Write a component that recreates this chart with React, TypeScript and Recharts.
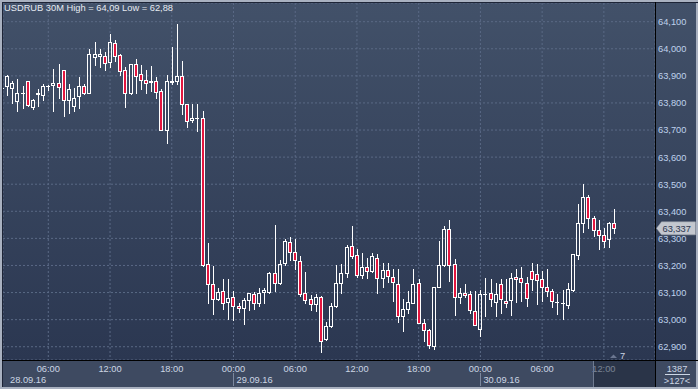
import React from 'react';
import { ComposedChart, Bar, XAxis, YAxis, CartesianGrid, ReferenceLine } from 'recharts';

// ---- data (30-minute candles, first index = -1 which sits on the left edge) ----
const firstIndex = -1;
const opens = [
  63.856, 63.862, 63.856, 63.806, 63.837, 63.880, 63.784, 63.835, 63.830, 63.862,
  63.865, 63.874, 63.921, 63.812, 63.787, 63.825, 63.862, 63.837, 63.971, 63.975,
  63.975, 63.952, 64.023, 63.976, 63.921, 63.838, 63.943, 63.906, 63.886, 63.880,
  63.880, 63.843, 63.700, 63.879, 63.880, 63.898, 63.797, 63.738, 63.744, 63.745,
  63.207, 63.133, 63.077, 63.106, 63.065, 63.085, 63.050, 63.043, 63.072, 63.096,
  63.060, 63.102, 63.102, 63.171, 63.137, 63.210, 63.286, 63.250, 63.217, 63.098,
  63.075, 63.057, 63.084, 62.928, 62.975, 63.051, 63.137, 63.171, 63.272, 63.237,
  63.164, 63.194, 63.180, 63.229, 63.153, 63.183, 63.159, 63.131, 63.014, 63.039,
  63.063, 63.137, 62.987, 62.961, 62.904, 63.122, 63.200, 63.333, 63.204, 63.082,
  63.098, 63.094, 63.033, 62.967, 63.094, 63.098, 63.066, 63.133, 63.069, 63.072,
  63.158, 63.155, 63.137, 63.178, 63.168, 63.150, 63.120, 63.105, 63.065, 63.062,
  63.055, 63.111, 63.237, 63.356, 63.454, 63.375, 63.332, 63.314, 63.296, 63.356,
];
const highs = [
  63.857, 63.902, 63.881, 63.887, 63.862, 63.882, 63.816, 63.850, 63.869, 63.866,
  63.925, 63.944, 63.921, 63.869, 63.856, 63.896, 63.869, 64.000, 64.025, 64.000,
  63.987, 64.054, 64.032, 63.982, 63.933, 63.942, 63.964, 63.939, 63.923, 63.936,
  63.896, 63.853, 63.902, 64.007, 64.091, 63.955, 63.797, 63.797, 63.797, 63.772,
  63.284, 63.198, 63.118, 63.149, 63.149, 63.106, 63.060, 63.081, 63.100, 63.102,
  63.118, 63.118, 63.176, 63.348, 63.220, 63.299, 63.306, 63.299, 63.235, 63.176,
  63.090, 63.094, 63.088, 62.992, 63.061, 63.200, 63.204, 63.274, 63.345, 63.262,
  63.247, 63.229, 63.245, 63.241, 63.210, 63.210, 63.186, 63.186, 63.078, 63.106,
  63.186, 63.149, 63.004, 62.967, 63.121, 63.290, 63.345, 63.367, 63.223, 63.115,
  63.131, 63.106, 63.106, 63.110, 63.152, 63.149, 63.137, 63.149, 63.149, 63.174,
  63.188, 63.196, 63.159, 63.208, 63.204, 63.180, 63.186, 63.113, 63.095, 63.111,
  63.135, 63.241, 63.427, 63.502, 63.460, 63.383, 63.369, 63.338, 63.362, 63.409,
];
const lows = [
  63.855, 63.829, 63.800, 63.771, 63.780, 63.787, 63.779, 63.787, 63.811, 63.846,
  63.771, 63.819, 63.750, 63.762, 63.769, 63.781, 63.834, 63.837, 63.940, 63.931,
  63.921, 63.933, 63.955, 63.902, 63.785, 63.834, 63.837, 63.853, 63.837, 63.844,
  63.819, 63.699, 63.651, 63.869, 63.871, 63.758, 63.711, 63.728, 63.696, 63.198,
  63.062, 63.022, 63.072, 63.040, 63.004, 62.997, 63.028, 62.985, 63.036, 63.040,
  63.050, 63.063, 63.100, 63.105, 63.131, 63.200, 63.220, 63.186, 63.088, 63.061,
  63.036, 63.033, 62.882, 62.926, 62.971, 63.048, 63.100, 63.158, 63.229, 63.159,
  63.152, 63.152, 63.176, 63.100, 63.122, 63.139, 63.069, 62.990, 62.959, 63.026,
  63.061, 62.987, 62.922, 62.894, 62.891, 63.122, 63.198, 63.143, 63.017, 63.061,
  63.085, 63.023, 62.980, 62.938, 63.014, 63.051, 63.014, 63.024, 63.045, 63.018,
  63.066, 63.069, 63.051, 63.111, 63.058, 63.067, 63.089, 63.046, 63.022, 63.001,
  63.043, 63.107, 63.223, 63.322, 63.338, 63.308, 63.259, 63.269, 63.269, 63.320,
];
const closes = [
  63.856, 63.900, 63.874, 63.836, 63.835, 63.794, 63.811, 63.834, 63.861, 63.863,
  63.874, 63.859, 63.812, 63.850, 63.819, 63.861, 63.837, 63.979, 63.979, 63.979,
  63.947, 64.026, 63.974, 63.918, 63.838, 63.942, 63.900, 63.884, 63.874, 63.879,
  63.840, 63.700, 63.880, 63.880, 63.898, 63.797, 63.733, 63.745, 63.744, 63.201,
  63.133, 63.078, 63.102, 63.060, 63.080, 63.049, 63.043, 63.072, 63.100, 63.063,
  63.097, 63.109, 63.171, 63.137, 63.204, 63.290, 63.250, 63.220, 63.094, 63.073,
  63.057, 63.082, 62.921, 62.977, 63.051, 63.134, 63.171, 63.268, 63.235, 63.164,
  63.194, 63.180, 63.235, 63.155, 63.183, 63.161, 63.139, 63.014, 63.041, 63.066,
  63.133, 62.987, 62.963, 62.906, 63.121, 63.201, 63.333, 63.200, 63.082, 63.098,
  63.090, 63.035, 62.980, 63.094, 63.094, 63.075, 63.094, 63.075, 63.061, 63.155,
  63.149, 63.139, 63.080, 63.150, 63.146, 63.120, 63.105, 63.067, 63.064, 63.061,
  63.113, 63.241, 63.356, 63.454, 63.375, 63.332, 63.314, 63.292, 63.356, 63.337,
];

const yTicks = [62.9, 63.0, 63.1, 63.2, 63.3, 63.4, 63.5, 63.6, 63.7, 63.8, 63.9, 64.0, 64.1];
const xTickIdx = [8, 20, 32, 44, 56, 68, 80, 92, 104, 116];
const xTickLabels = ['06:00', '12:00', '18:00', '00:00', '06:00', '12:00', '18:00', '00:00', '06:00', '12:00'];
const dateTickIdx = [44, 92];
const dateLabels = ['29.09.16', '30.09.16'];
const firstDateLabel = '28.09.16';
const lastPrice = 63.337;
const titleText = 'USDRUB 30M High = 64,09 Low = 62,88';
const barsLabel = '1387';
const shiftLabel = '>127<';
const shiftCount = '7';

const data = opens.map((o, n) => ({
  i: n + firstIndex,
  open: o,
  high: highs[n],
  low: lows[n],
  close: closes[n],
}));

const FONT = '"Liberation Sans", Arial, sans-serif';
const RED = '#e3163f';
const W = 698;
const H = 389;

const fmt = (v: number) => v.toFixed(3).replace('.', ',');

const Candle = (props: any) => {
  const { x, y, width, height, payload } = props;
  if (x == null || y == null || !payload) return null;
  const { open, close, high, low } = payload;
  const c = Math.round(x + width / 2);
  const range = high - low;
  const toY = (v: number) => (range > 0 ? y + ((high - v) / range) * height : y);
  const yH = Math.round(y);
  const yL = Math.round(y + height);
  const yO = Math.round(toY(open));
  const yC = Math.round(toY(close));
  const top = Math.min(yO, yC);
  const bot = Math.max(yO, yC);
  const bear = close < open;
  const wx = c + 0.5;
  return (
    <g>
      {top > yH && <line x1={wx} x2={wx} y1={yH} y2={top} stroke="#ffffff" strokeWidth={1} />}
      {yL > bot && <line x1={wx} x2={wx} y1={bot} y2={yL + 1} stroke="#ffffff" strokeWidth={1} />}
      {bot - top >= 1 ? (
        <rect x={c - 1.5} y={top + 0.5} width={3} height={bot - top} fill={bear ? RED : 'none'} stroke="#ffffff" strokeWidth={1} />
      ) : (
        <line x1={c - 2} x2={c + 2} y1={top + 0.5} y2={top + 0.5} stroke="#ffffff" strokeWidth={1} />
      )}
    </g>
  );
};

const YTick = (props: any) => {
  const { x, y, payload } = props;
  return (
    <text x={x} y={y + 3.4} fill="#bfd1ec" fontSize={9.3} fontFamily={FONT} textAnchor="start">
      {fmt(payload.value)}
    </text>
  );
};

const XTick = (props: any) => {
  const { x, y, payload } = props;
  const idx = xTickIdx.indexOf(payload.value);
  const dIdx = dateTickIdx.indexOf(payload.value);
  const lx = Math.round(x) + 0.5;
  return (
    <g>
      <text x={x} y={y + 11.7} fill="#ccd6e4" fontSize={9.3} fontFamily={FONT} textAnchor="middle">
        {idx >= 0 ? xTickLabels[idx] : ''}
      </text>
      {dIdx >= 0 && (
        <g>
          <line x1={lx} x2={lx} y1={y + 13} y2={y + 26} stroke="#7c889f" strokeWidth={1} />
          <text x={x + 3} y={y + 22.7} fill="#ccd6e4" fontSize={9.3} fontFamily={FONT} textAnchor="start">
            {dateLabels[dIdx]}
          </text>
        </g>
      )}
    </g>
  );
};

const PriceTag = (props: any) => {
  const vb = props.viewBox || {};
  const x0 = (vb.x || 0) + (vb.width || 0) + 1.5;
  const yc = vb.y || 0;
  return (
    <g>
      <path
        d={`M${x0} ${yc} L${x0 + 5} ${yc - 6.5} L${x0 + 39} ${yc - 6.5} L${x0 + 39} ${yc + 6.5} L${x0 + 5} ${yc + 6.5} Z`}
        fill="#c3c7cf"
        stroke="#9aa0ab"
        strokeWidth={0.5}
      />
      <text x={x0 + 6} y={yc + 3.4} fill="#2b3650" fontSize={9.3} fontFamily={FONT}>
        {fmt(lastPrice)}
      </text>
    </g>
  );
};

export default function App() {
  return (
    <div style={{ position: 'absolute', left: 0, top: 0, width: W, height: H, overflow: 'hidden', background: '#a9b1c0' }}>
      {/* plot + right axis background */}
      <div style={{ position: 'absolute', left: 2, top: 2, width: W - 4, height: 358, background: 'linear-gradient(#425169, #2b3751)' }} />
      {/* bottom axis strip */}
      <div style={{ position: 'absolute', left: 2, top: 360, width: W - 4, height: 27, background: '#3e4a61' }} />
      <div style={{ position: 'absolute', left: 0, top: 0 }}>
        <ComposedChart width={W} height={H} data={data} margin={{ top: 3, right: 0, bottom: 0, left: 3 }}>
          <CartesianGrid stroke="#5a6985" strokeDasharray="2 2" />
          <XAxis
            dataKey="i"
            type="number"
            domain={[-0.807, 125.94]}
            allowDataOverflow
            ticks={xTickIdx}
            interval={0}
            height={29}
            axisLine={false}
            tickLine={false}
            tickSize={0}
            tickMargin={0}
            tick={<XTick />}
          />
          <YAxis
            orientation="right"
            type="number"
            domain={[62.851, 64.169]}
            allowDataOverflow
            ticks={yTicks}
            interval={0}
            width={43}
            axisLine={false}
            tickLine={false}
            tickSize={0}
            tickMargin={3}
            tick={<YTick />}
          />
          <Bar dataKey={(d: any) => [d.low, d.high]} barSize={5} shape={<Candle />} isAnimationActive={false} />
          <ReferenceLine y={lastPrice} stroke="none" label={(p: any) => <PriceTag {...p} />} />
        </ComposedChart>
      </div>
      <svg width={W} height={H} style={{ position: 'absolute', left: 0, top: 0, pointerEvents: 'none' }}>
        {/* dimmed shift zone on the time axis */}
        <rect x={593} y={361} width={62} height={26} fill="rgba(18,26,42,0.45)" />
        <line x1={593.5} x2={593.5} y1={361} y2={387} stroke="#6f7a90" strokeWidth={1} />
        {/* frame */}
        <line x1={2} x2={W} y1={2.5} y2={2.5} stroke="#1d2436" strokeWidth={1} />
        <line x1={2.5} x2={2.5} y1={2} y2={387} stroke="#1d2436" strokeWidth={1} />
        <line x1={2} x2={W} y1={360.5} y2={360.5} stroke="#000000" strokeWidth={1} />
        <line x1={655.5} x2={655.5} y1={2} y2={387} stroke="#000000" strokeWidth={1} />
        {/* texts */}
        <text x={4} y={11.3} fill="#e6eaf1" fontSize={9.3} fontFamily={FONT}>{titleText}</text>
        <text x={10} y={382.7} fill="#ccd6e4" fontSize={9.3} fontFamily={FONT}>{firstDateLabel}</text>
        <text x={677} y={371.7} fill="#ccd6e4" fontSize={9.3} fontFamily={FONT} textAnchor="middle">{barsLabel}</text>
        <line x1={665} x2={690} y1={374.5} y2={374.5} stroke="#ccd6e4" strokeWidth={1} />
        <text x={677} y={384} fill="#ccd6e4" fontSize={9.3} fontFamily={FONT} textAnchor="middle">{shiftLabel}</text>
        <path d="M610 358 L613.5 354.5 L617 358 Z" fill="#6b7690" />
        <text x={620} y={359} fill="#ccd6e4" fontSize={9.3} fontFamily={FONT}>{shiftCount}</text>
      </svg>
    </div>
  );
}
